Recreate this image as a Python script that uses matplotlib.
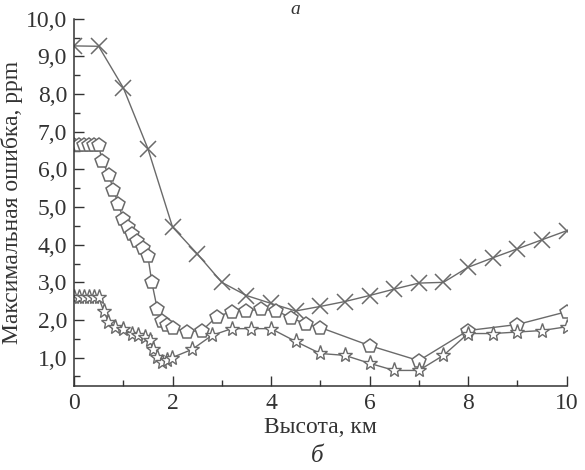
import matplotlib
matplotlib.use("Agg")
import matplotlib.pyplot as plt
from matplotlib.ticker import MultipleLocator, FuncFormatter

plt.rcParams["font.family"] = ["Liberation Serif", "DejaVu Serif"]

# crosses
x_cross = [0, 0.5, 1.0, 1.5, 2.0, 2.5, 3.0, 3.5, 4.0, 4.5, 5.0, 5.5, 6.0, 6.5,
           7.0, 7.5, 8.0, 8.5, 9.0, 9.5, 10.0]
y_cross = [9.28, 9.27, 8.17, 6.55, 4.47, 3.76, 3.0, 2.65, 2.44, 2.24, 2.36, 2.49,
           2.65, 2.82, 2.98, 3.0, 3.4, 3.65, 3.89, 4.13, 4.37]

# pentagons
x_pent = [0, 0.1, 0.2, 0.3, 0.4, 0.5, 0.57, 0.71, 0.8, 0.9, 1.0, 1.1, 1.18, 1.28,
          1.4, 1.5, 1.58, 1.69, 1.79, 1.89, 2.0, 2.3, 2.6, 2.9, 3.2, 3.5, 3.8,
          4.1, 4.4, 4.7, 5.0, 6.0, 7.0, 8.0, 9.0, 10.0]
y_pent = [6.65, 6.65, 6.65, 6.65, 6.65, 6.65, 6.22, 5.85, 5.45, 5.08, 4.68, 4.47,
          4.29, 4.1, 3.92, 3.7, 3.0, 2.3, 1.96, 1.88, 1.78, 1.69, 1.72, 2.09, 2.22,
          2.25, 2.28, 2.25, 2.06, 1.9, 1.8, 1.32, 0.92, 1.72, 1.88, 2.22]

# stars
x_star = [0, 0.1, 0.2, 0.3, 0.4, 0.5, 0.6, 0.7, 0.83, 1.0, 1.17, 1.3, 1.44, 1.54,
          1.6, 1.69, 1.78, 1.88, 1.99, 2.4, 2.8, 3.2, 3.6, 4.0, 4.5, 5.0, 5.5,
          6.0, 6.5, 7.0, 7.5, 8.0, 8.5, 9.0, 9.5, 10.0]
y_star = [2.6, 2.6, 2.6, 2.6, 2.6, 2.6, 2.25, 1.95, 1.82, 1.77, 1.64, 1.59, 1.56,
          1.46, 1.24, 1.03, 0.88, 0.93, 1.0, 1.22, 1.59, 1.77, 1.77, 1.77, 1.43,
          1.11, 1.06, 0.85, 0.66, 0.66, 1.06, 1.64, 1.64, 1.68, 1.72, 1.82]

yticks = [1, 2, 3, 4, 5, 6, 7, 8, 9, 10]
xticks = [0, 2, 4, 6, 8, 10]

LINE = "#6a6a6a"
TXT = "#333333"

fig = plt.figure(figsize=(5.85, 4.7), dpi=100)
ax = fig.add_axes([0.1265, 0.179, 0.842, 0.781])

ax.plot(x_cross, y_cross, color=LINE, lw=1.0, marker="x", ms=12, mew=1.1, mec=LINE)
ax.plot(x_pent, y_pent, color=LINE, lw=1.0, marker="p", ms=10, mew=1.1,
        mfc="white", mec=LINE)
ax.plot(x_star, y_star, color=LINE, lw=1.0, marker="*", ms=11, mew=1.0,
        mfc="white", mec=LINE)

ax.set_xlim(0, 10)
ax.set_ylim(0.25, 10)
ax.set_xticks(xticks)
ax.set_yticks(yticks)
ax.xaxis.set_minor_locator(MultipleLocator(1))
ax.yaxis.set_minor_locator(MultipleLocator(0.5))
ax.yaxis.set_major_formatter(FuncFormatter(lambda v, p: f"{v:.1f}".replace(".", ",")))

for s in ["top", "right"]:
    ax.spines[s].set_visible(False)
for s in ["left", "bottom"]:
    ax.spines[s].set_color(TXT)
    ax.spines[s].set_linewidth(1.1)

ax.tick_params(which="major", direction="in", length=7, width=1.0, colors=TXT,
               labelsize=17, pad=5)
ax.tick_params(which="minor", direction="in", length=4, width=1.0, colors=TXT)

ax.set_xlabel("Высота, км", fontsize=17, color=TXT, labelpad=2)
ax.set_ylabel("Максимальная ошибка, ppm", fontsize=17, color=TXT, labelpad=2)

fig.text(0.543, 0.03, "б", fontsize=18, style="italic", color=TXT, ha="center",
         va="center")
fig.text(0.505, 0.997, "а", fontsize=14, style="italic", color=TXT, ha="center",
         va="top")

fig.savefig("out.png", dpi=100, facecolor="white")
